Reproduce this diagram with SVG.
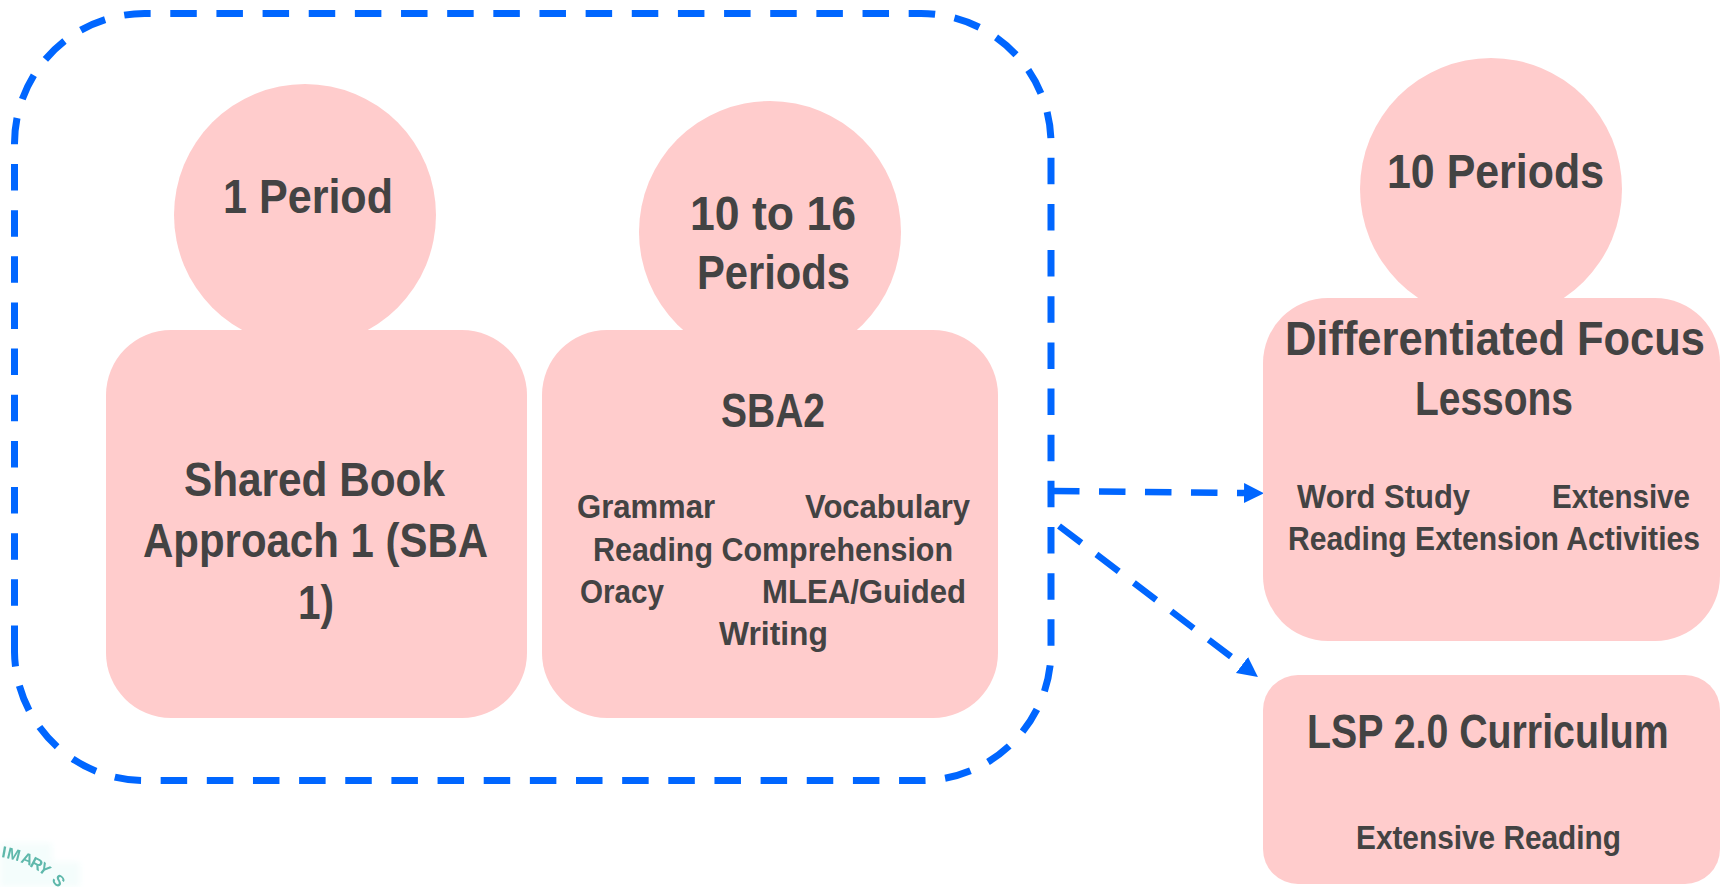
<svg xmlns="http://www.w3.org/2000/svg" width="1720" height="887" viewBox="0 0 1720 887">
<style>
.s{fill:#ffcccc}
text{font-family:"Liberation Sans",Arial,sans-serif;font-weight:700;fill:#434343}
.l{font-size:48px}
.m{font-size:34px}
.c{fill:none;stroke:#0066ff;stroke-width:7}
.logo{font-size:16px;fill:#5fb8ab}
</style>
<defs>
<marker id="a" markerUnits="userSpaceOnUse" markerWidth="22" markerHeight="22" refX="0" refY="10" orient="auto"><path d="M0,0L20,10L0,20Z" fill="#0066ff"/></marker>
<filter id="b" x="-20%" y="-20%" width="140%" height="140%"><feGaussianBlur stdDeviation="0.7"/></filter>
<filter id="h" x="-20%" y="-20%" width="140%" height="140%"><feGaussianBlur stdDeviation="3"/></filter>
</defs>
<g id="logo"><path d="M0,843H52V862H80V887H0Z" fill="#f4fdfc" filter="url(#h)"/>
<g filter="url(#b)"><text class="logo" transform="translate(1 857) rotate(10)">I</text><text class="logo" transform="translate(6 858) rotate(14)">M</text><text class="logo" transform="translate(20 862) rotate(20)">A</text><text class="logo" transform="translate(29 866) rotate(28)">R</text><text class="logo" transform="translate(37 870) rotate(38)">Y</text><text class="logo" transform="translate(51 880) rotate(50)">S</text></g></g>
<g id="connectors">
<path class="c" stroke-dasharray="26.5 19.65" d="M14.5,652V143.5A130,130 0 0 1 144.5,13.5H921A130,130 0 0 1 1051,143.5V651A130,130 0 0 1 921,780.5H144.5A130,130 0 0 1 14.5,652"/>
<path class="c" style="stroke-width:6.5" stroke-dasharray="26.5 19.5" marker-end="url(#a)" d="M1053,491L1244,493"/>
<path class="c" style="stroke-width:6.5" stroke-dasharray="28 19" marker-end="url(#a)" d="M1059,526L1242,665"/>
</g>
<g id="n1"><circle class="s" cx="305" cy="215" r="131"/><rect class="s" x="106" y="330" width="421" height="388" rx="65"/>
<text class="l" x="223" y="213" textLength="170" lengthAdjust="spacingAndGlyphs">1 Period</text>
<text class="l" x="184" y="496" textLength="261" lengthAdjust="spacingAndGlyphs">Shared Book</text>
<text class="l" x="143" y="557" textLength="345" lengthAdjust="spacingAndGlyphs">Approach 1 (SBA</text>
<text class="l" x="298" y="619" textLength="36" lengthAdjust="spacingAndGlyphs">1)</text></g>
<g id="n2"><circle class="s" cx="770" cy="232" r="131"/><rect class="s" x="542" y="330" width="456" height="388" rx="65"/>
<text class="l" x="690" y="230" textLength="166" lengthAdjust="spacingAndGlyphs">10 to 16</text>
<text class="l" x="697" y="289" textLength="153" lengthAdjust="spacingAndGlyphs">Periods</text>
<text class="l" x="721" y="427" textLength="104" lengthAdjust="spacingAndGlyphs">SBA2</text>
<text class="m" x="577" y="518" textLength="138" lengthAdjust="spacingAndGlyphs">Grammar</text>
<text class="m" x="805" y="518" textLength="165" lengthAdjust="spacingAndGlyphs">Vocabulary</text>
<text class="m" x="593" y="561" textLength="360" lengthAdjust="spacingAndGlyphs">Reading Comprehension</text>
<text class="m" x="580" y="603" textLength="84" lengthAdjust="spacingAndGlyphs">Oracy</text>
<text class="m" x="762" y="603" textLength="204" lengthAdjust="spacingAndGlyphs">MLEA/Guided</text>
<text class="m" x="719" y="645" textLength="109" lengthAdjust="spacingAndGlyphs">Writing</text></g>
<g id="n3"><circle class="s" cx="1491" cy="189" r="131"/><rect class="s" x="1263" y="298" width="457" height="343" rx="65"/>
<text class="l" x="1387" y="188" textLength="217" lengthAdjust="spacingAndGlyphs">10 Periods</text>
<text class="l" transform="translate(1285 355) scale(.92 1)" textLength="456.5" lengthAdjust="spacingAndGlyphs">Differentiated Focus</text>
<text class="l" x="1415" y="415" textLength="158" lengthAdjust="spacingAndGlyphs">Lessons</text>
<text class="m" x="1297" y="508" textLength="173" lengthAdjust="spacingAndGlyphs">Word Study</text>
<text class="m" x="1552" y="508" textLength="138" lengthAdjust="spacingAndGlyphs">Extensive</text>
<text class="m" transform="translate(1288 550) scale(.93 1)" textLength="443" lengthAdjust="spacingAndGlyphs">Reading Extension Activities</text></g>
<g id="n4"><rect class="s" x="1263" y="675" width="457" height="209" rx="35"/>
<text class="l" transform="translate(1307 748) scale(.9 1)" textLength="402" lengthAdjust="spacingAndGlyphs">LSP 2.0 Curriculum</text>
<text class="m" x="1356" y="849" textLength="265" lengthAdjust="spacingAndGlyphs">Extensive Reading</text></g>
</svg>
